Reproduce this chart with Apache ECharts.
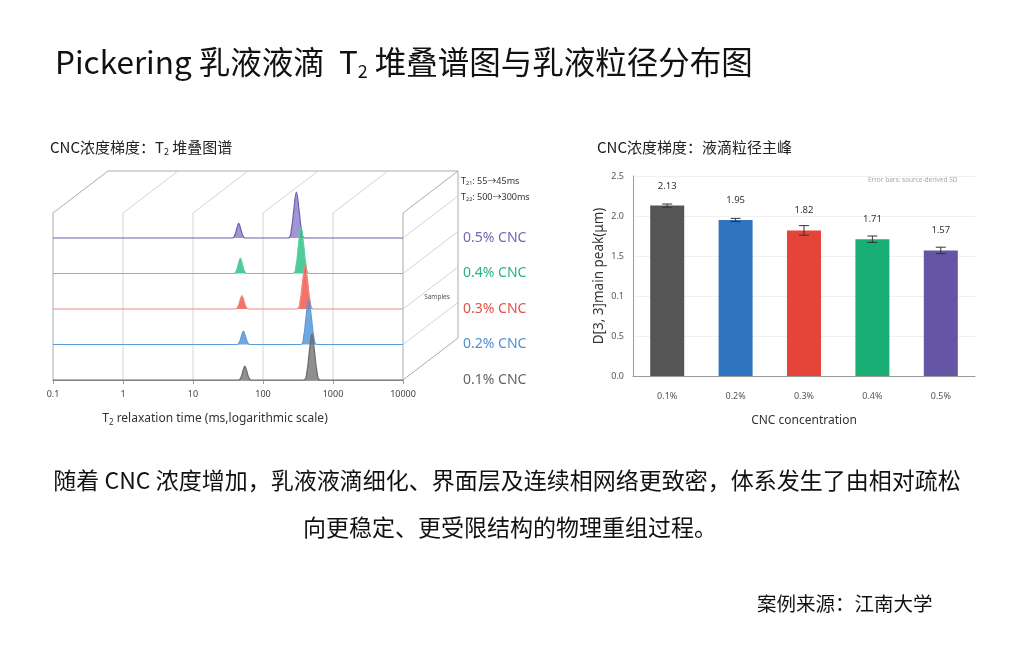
<!DOCTYPE html>
<html><head><meta charset="utf-8">
<script src="https://cdn.jsdelivr.net/npm/echarts/dist/echarts.min.js"></script>
<style>html,body{margin:0;padding:0;background:#fff;}#c{width:1024px;height:652px;}</style>
</head><body><div id="c"></div>
<script>
// ---------- data ----------
const SAMPLES = ['0.1% CNC', '0.2% CNC', '0.3% CNC', '0.4% CNC', '0.5% CNC'];
const T2_TICK_VALUES = [0.1, 1, 10, 100, 1000, 10000];
const T2_TICK_LABELS = ['0.1', '1', '10', '100', '1000', '10000'];
// T2 spectra: [T2 (ms), relative amplitude]
const T2_CNC01 = [[0.1,0],[44.7,0],[48.5,0.06],[51.3,0.18],[55,0.30],[59.0,0.18],[62.4,0.06],[67.7,0],
  [380,0],[426,0.2],[456,0.58],[500,1.0],[548,0.58],[588,0.2],[659,0],[10000,0]];
const T2_CNC02 = [[0.1,0],[42.7,0],[46.3,0.058],[49.0,0.174],[52.5,0.29],[56.3,0.174],[59.6,0.058],[64.6,0],
  [342,0],[383,0.196],[410,0.57],[450,0.98],[493,0.57],[529,0.196],[593,0],[10000,0]];
const T2_CNC03 = [[0.1,0],[40.7,0],[44.1,0.058],[46.7,0.174],[50,0.29],[53.6,0.174],[56.8,0.058],[61.5,0],
  [304,0],[340,0.19],[365,0.56],[400,0.96],[438,0.56],[470,0.19],[527,0],[10000,0]];
const T2_CNC04 = [[0.1,0],[38.6,0],[41.8,0.066],[44.3,0.2],[47.5,0.33],[50.9,0.2],[53.9,0.066],[58.4,0],
  [266,0],[298,0.2],[319,0.58],[350,1.0],[384,0.58],[411,0.2],[461,0],[10000,0]];
const T2_CNC05 = [[0.1,0],[36.6,0],[39.6,0.064],[42.0,0.19],[45,0.32],[48.2,0.19],[51.1,0.064],[55.4,0],
  [228,0],[255,0.2],[274,0.58],[300,1.0],[329,0.58],[353,0.2],[395,0],[10000,0]];
const RIDGES = [T2_CNC01, T2_CNC02, T2_CNC03, T2_CNC04, T2_CNC05];

const CONC = ['0.1%', '0.2%', '0.3%', '0.4%', '0.5%'];
const SIZE_MEAN = [2.13, 1.95, 1.82, 1.71, 1.57];
const SIZE_SD = [0.02, 0.02, 0.06, 0.04, 0.04];
const Y_TICK_LABELS = ['0.0', '0.5', '0.1', '1.5', '2.0', '2.5'];

// ---------- styles / layout ----------
const FONT = "'Noto Sans', 'Noto Sans CJK SC', sans-serif";
const CJK = "'Noto Sans CJK SC', 'Noto Sans', sans-serif";
const LINE_COLORS = ['#6a6a6a', '#5e9ad4', '#ef8b83', '#5ccfa3', '#6a5fb0'];
const AREA_COLORS = ['rgba(112,112,112,0.78)', 'rgba(72,142,214,0.78)', 'rgba(240,84,72,0.82)', 'rgba(34,190,128,0.8)', 'rgba(124,110,192,0.72)'];
const LABEL_COLORS = ['#666666', '#4f8fd0', '#e5514a', '#2bb37f', '#7367b5'];
const BAR_COLORS = ['#555555', '#2f74bf', '#e54539', '#19ae74', '#6456a5'];
const L = { left: 53, width: 350, base0: 380, step: 35.5, ridgeH: 46, dx: 55, dy: 42, topExtra: 25 };

const grids = [], xAxes = [], yAxes = [], series = [];
for (let i = 0; i < 5; i++) {
  const base = L.base0 - i * L.step;
  grids.push({ left: L.left, width: L.width, top: base - L.ridgeH, height: L.ridgeH, containLabel: false, outerBoundsMode: 'none' });
  const front = i === 0;
  xAxes.push({
    gridIndex: i, type: 'log', logBase: 10, min: 0.1, max: 10000,
    show: true,
    axisLine: { show: front, lineStyle: { color: '#9c9c9c', width: 1 } },
    axisTick: { show: front, length: 4, lineStyle: { color: '#9c9c9c' } },
    axisLabel: { show: front, fontSize: 9, color: '#444', margin: 10, fontFamily: FONT,
      formatter: v => T2_TICK_LABELS[T2_TICK_VALUES.findIndex(t => Math.abs(Math.log10(t) - Math.log10(v)) < 1e-6)] || '' },
    splitLine: { show: false }, minorTick: { show: false }, minorSplitLine: { show: false }
  });
  yAxes.push({ gridIndex: i, type: 'value', min: 0, max: 1, show: false, splitLine: { show: false } });
  series.push({
    type: 'line', name: SAMPLES[i], xAxisIndex: i, yAxisIndex: i, data: RIDGES[i],
    smooth: 0.4, symbol: 'none', showSymbol: false, clip: false, z: 10 - i,
    lineStyle: { color: LINE_COLORS[i], width: 1.2 },
    areaStyle: { color: AREA_COLORS[i], opacity: 1 },
    emphasis: { disabled: true },
    endLabel: { show: true, formatter: SAMPLES[i], distance: 60, color: LABEL_COLORS[i], fontSize: 14, fontFamily: FONT }
  });
}
// 3D frame of the stacked plot, drawn on the front panel's log axis
series.push({
  type: 'custom', xAxisIndex: 0, yAxisIndex: 0, z: 1, clip: false, silent: true,
  data: T2_TICK_VALUES.map(v => [v, 0]),
  renderItem: function (params, api) {
    const last = T2_TICK_VALUES.length - 1;
    const p = api.coord([api.value(0), 0]);
    const x = p[0], yb = p[1];
    const top = yb - 4 * L.step - L.topExtra;
    const edge = params.dataIndex === 0 || params.dataIndex === last;
    const col = edge ? '#a6aeac' : '#d4d4d4';
    const segs = [[x, yb, x, top, col], [x, top, x + L.dx, top - L.dy, col]];
    if (params.dataIndex === 0) {
      const xr = api.coord([T2_TICK_VALUES[last], 0])[0];
      segs.push([x + L.dx, top - L.dy, xr + L.dx, top - L.dy, '#a6aeac']);
    }
    if (params.dataIndex === last) {
      segs.push([x + L.dx, top - L.dy, x + L.dx, yb - L.dy, '#a6aeac']);
      segs.push([x, yb, x + L.dx, yb - L.dy, '#a6aeac']);
      for (let k = 1; k < 5; k++) segs.push([x, yb - k * L.step, x + L.dx, yb - k * L.step - L.dy, '#d4d4d4']);
    }
    return { type: 'group', children: segs.map(s => ({ type: 'line', shape: { x1: s[0], y1: s[1], x2: s[2], y2: s[3] }, style: { stroke: s[4], lineWidth: 1 } })) };
  }
});

// ---------- bar chart ----------
grids.push({ left: 633, width: 342, top: 176, height: 200, containLabel: false, outerBoundsMode: 'none' });
xAxes.push({
  gridIndex: 5, type: 'category', data: CONC,
  axisLine: { show: true, lineStyle: { color: '#9a9a9a' } }, axisTick: { show: false },
  axisLabel: { fontSize: 9, color: '#555', margin: 16, fontFamily: FONT },
  name: 'CNC concentration', nameLocation: 'middle', nameGap: 39,
  nameTextStyle: { fontSize: 12, color: '#333', fontFamily: FONT }
});
yAxes.push({
  gridIndex: 5, type: 'value', min: 0, max: 2.5, interval: 0.5,
  axisLine: { show: true, lineStyle: { color: '#9a9a9a' } }, axisTick: { show: false },
  axisLabel: { fontSize: 9, color: '#555', margin: 9, fontFamily: FONT, formatter: v => Y_TICK_LABELS[Math.round(v / 0.5)] },
  splitLine: { show: true, lineStyle: { color: '#f0f0f0' } },
  name: 'D[3, 3]main peak(μm)', nameLocation: 'middle', nameGap: 27, nameRotate: 90,
  nameTextStyle: { fontSize: 13.5, color: '#333', fontFamily: FONT }
});
series.push({
  type: 'bar', xAxisIndex: 5, yAxisIndex: 5, barWidth: 34,
  data: SIZE_MEAN.map((v, i) => ({ value: v, itemStyle: { color: BAR_COLORS[i] } })),
  label: { show: true, position: 'top', distance: 15, fontSize: 9.5, color: '#333', fontFamily: FONT, formatter: p => p.value.toFixed(2) },
  emphasis: { disabled: true }, z: 2
});
series.push({
  type: 'custom', xAxisIndex: 5, yAxisIndex: 5, z: 5, silent: true,
  data: SIZE_MEAN.map((m, i) => [i, m - SIZE_SD[i], m + SIZE_SD[i]]),
  renderItem: function (params, api) {
    const lo = api.coord([api.value(0), api.value(1)]);
    const hi = api.coord([api.value(0), api.value(2)]);
    const w = 5, st = { stroke: '#333', lineWidth: 1 };
    return { type: 'group', children: [
      { type: 'line', shape: { x1: lo[0], y1: lo[1], x2: hi[0], y2: hi[1] }, style: st },
      { type: 'line', shape: { x1: lo[0] - w, y1: lo[1], x2: lo[0] + w, y2: lo[1] }, style: st },
      { type: 'line', shape: { x1: hi[0] - w, y1: hi[1], x2: hi[0] + w, y2: hi[1] }, style: st }
    ] };
  }
});

// ---------- texts ----------
function txt(x, y, text, size, color, align, family, rich) {
  return { type: 'text', x: x, y: y, silent: true, style: {
    text: text, fontSize: size, fontFamily: family || FONT, fill: color, align: align || 'left', verticalAlign: 'middle',
    textAlign: align || 'left', textVerticalAlign: 'middle', rich: rich } };
}
function subRich(size, sub, color, family, lh) {
  return {
    a: { fontSize: size, fill: color, color: color, fontFamily: family, lineHeight: lh, verticalAlign: 'middle' },
    s: { fontSize: sub, fill: color, color: color, fontFamily: family, lineHeight: Math.round(lh * 0.55), verticalAlign: 'bottom' }
  };
}
const graphic = [
  txt(55, 62, '{a|Pickering 乳液液滴  T}{s|2}{a| 堆叠谱图与乳液粒径分布图}', 31.5, '#111', 'left', CJK, subRich(31.5, 18, '#111', CJK, 36)),
  txt(50, 147, '{a|CNC浓度梯度：T}{s|2}{a| 堆叠图谱}', 15, '#222', 'left', CJK, subRich(15, 9, '#222', CJK, 18)),
  txt(597, 147, 'CNC浓度梯度：液滴粒径主峰', 15, '#222', 'left', CJK),
  txt(461, 181, '{a|T}{s|21}{a|: 55→45ms}', 9, '#333', 'left', FONT, subRich(9, 5.5, '#333', FONT, 11)),
  txt(461, 197, '{a|T}{s|22}{a|: 500→300ms}', 9, '#333', 'left', FONT, subRich(9, 5.5, '#333', FONT, 11)),
  txt(437, 297, 'Samples', 6.5, '#555', 'center', FONT),
  txt(215, 419, '{a|T}{s|2}{a| relaxation time (ms,logarithmic scale)}', 12, '#333', 'center', FONT, subRich(12, 8, '#333', FONT, 15)),
  txt(868, 180, 'Error bars: source-derived SD', 6.5, '#aaa', 'left', FONT),
  txt(507, 480, '随着 CNC 浓度增加，乳液液滴细化、界面层及连续相网络更致密，体系发生了由相对疏松', 23, '#111', 'center', CJK),
  txt(510, 527, '向更稳定、更受限结构的物理重组过程。', 23, '#111', 'center', CJK),
  txt(757, 604, '案例来源：江南大学', 19.5, '#111', 'left', CJK)
];

const chart = echarts.init(document.getElementById('c'));
chart.setOption({
  backgroundColor: '#fff', animation: false, textStyle: { fontFamily: FONT },
  grid: grids, xAxis: xAxes, yAxis: yAxes, series: series, graphic: graphic
});
</script></body></html>
